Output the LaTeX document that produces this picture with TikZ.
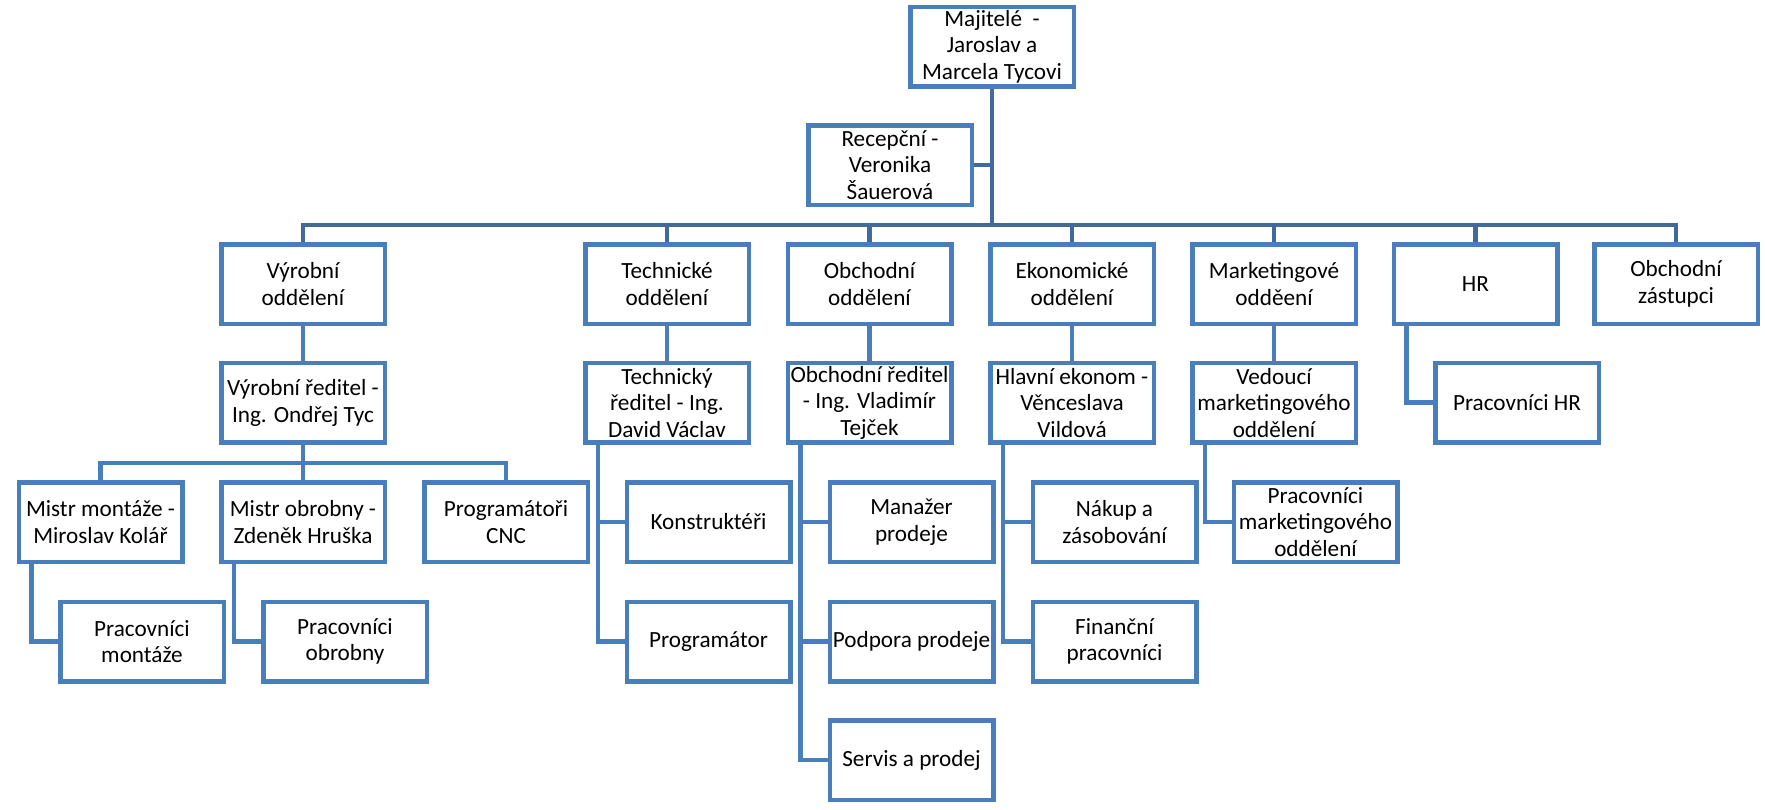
\documentclass[tikz,border=0pt]{standalone}
\usepackage{fontspec}
\setmainfont{Carlito}
\usepackage{tikz}
\usepackage{xcolor}

\definecolor{boxblue}{HTML}{4A7EBB}
\definecolor{busblue}{HTML}{41699B}

\tikzset{
  orgbox/.style={draw=boxblue, line width=2.25pt, fill=white, rectangle,
    minimum width=81.75pt, minimum height=39.75pt, inner sep=0.8pt,
    align=center, font=\fontsize{11.6}{13.3}\selectfont},
  link/.style={draw=boxblue, line width=2.25pt},
  buslink/.style={draw=busblue, line width=2.25pt}
}

\begin{document}
\begin{tikzpicture}[x=0.5pt,y=0.5pt,yscale=-1,xscale=1]
        \useasboundingbox (0,0) rectangle (1765,809); %set diagram size as the page

        % Text Node
        \draw (992,46.5) node [orgbox] (own) {Majitelé~ -\\Jaroslav a\\Marcela Tycovi};
        % Text Node
        \draw (890,165) node [orgbox] (recep) {Recepční -\\Veronika\\Šauerová};

        % Text Node
        \draw (303,284) node [orgbox] (vyr) {Výrobní\\oddělení};
        % Text Node
        \draw (667,284) node [orgbox] (tech) {Technické\\oddělení};
        % Text Node
        \draw (869.5,284) node [orgbox] (obch) {Obchodní\\oddělení};
        % Text Node
        \draw (1072,284) node [orgbox] (ekon) {Ekonomické\\oddělení};
        % Text Node
        \draw (1274,284) node [orgbox] (mkt) {Marketingové\\odděení};
        % Text Node
        \draw (1475.5,284) node [orgbox] (hr) {HR};
        % Text Node
        \draw (1676,284) node [orgbox] (zast) {Obchodní\\zástupci};

        % Text Node
        \draw (303,402.7) node [orgbox] (vyrred) {Výrobní ředitel -\\Ing. Ondřej Tyc};
        % Text Node
        \draw (667,402.7) node [orgbox] (techred) {Technický\\ředitel - Ing.\\David Václav};
        % Text Node
        \draw (869.5,402.7) node [orgbox] (obchred) {Obchodní ředitel\\- Ing. Vladimír\\Tejček};
        % Text Node
        \draw (1072,402.7) node [orgbox] (ekonom) {Hlavní ekonom -\\Věnceslava\\Vildová};
        % Text Node
        \draw (1274,402.7) node [orgbox] (vedmkt) {Vedoucí\\marketingového\\oddělení};
        % Text Node
        \draw (1517,402.7) node [orgbox] (prachr) {Pracovníci HR};

        % Text Node
        \draw (100.5,522) node [orgbox] (mistrm) {Mistr montáže -\\Miroslav Kolář};
        % Text Node
        \draw (303,522) node [orgbox] (mistro) {Mistr obrobny -\\Zdeněk Hruška};
        % Text Node
        \draw (506,522) node [orgbox] (cnc) {Programátoři\\CNC};
        % Text Node
        \draw (708.5,522) node [orgbox] (konstr) {Konstruktéři};
        % Text Node
        \draw (911.5,522) node [orgbox] (manaz) {Manažer\\prodeje};
        % Text Node
        \draw (1114.5,522) node [orgbox] (nakup) {Nákup a\\zásobování};
        % Text Node
        \draw (1315.5,522) node [orgbox] (pracmkt) {Pracovníci\\marketingového\\oddělení};

        % Text Node
        \draw (142,641.5) node [orgbox] (pracmont) {Pracovníci\\montáže};
        % Text Node
        \draw (345,641.5) node [orgbox] (pracobr) {Pracovníci\\obrobny};
        % Text Node
        \draw (708.5,641.5) node [orgbox] (program) {Programátor};
        % Text Node
        \draw (911.5,641.5) node [orgbox] (podpora) {Podpora prodeje};
        % Text Node
        \draw (1114.5,641.5) node [orgbox] (financ) {Finanční\\pracovníci};

        % Text Node
        \draw (911.5,760) node [orgbox] (servis) {Servis a prodej};

        %Shape: main bus
        \coordinate (bus) at (992,225);
        \draw [buslink] (own) -- (bus);
        \draw [buslink] (recep.east) -- (recep.east -| own.south);
        \draw [buslink] (vyr.north) |- (bus) -| (zast.north);
        \draw [buslink] (tech.north) -- (tech.north |- bus);
        \draw [buslink] (obch.north) -- (obch.north |- bus);
        \draw [buslink] (ekon.north) -- (ekon.north |- bus);
        \draw [buslink] (mkt.north) -- (mkt.north |- bus);
        \draw [buslink] (hr.north) -- (hr.north |- bus);

        %Shape: department to head
        \draw [link] (vyr) -- (vyrred);
        \draw [link] (tech) -- (techred);
        \draw [link] (obch) -- (obchred);
        \draw [link] (ekon) -- (ekonom);
        \draw [link] (mkt) -- (vedmkt);
        \draw [link] ([xshift=7.5pt]hr.south west) |- (prachr.west);

        %Shape: production bus
        \coordinate (vbus) at (303,463);
        \draw [link] (vyrred) -- (mistro);
        \draw [link] (mistrm.north) |- (vbus) -| (cnc.north);
        \draw [link] ([xshift=7.5pt]mistrm.south west) |- (pracmont.west);
        \draw [link] ([xshift=7.5pt]mistro.south west) |- (pracobr.west);

        %Shape: side branches
        \draw [link] ([xshift=7.5pt]techred.south west) |- (konstr.west);
        \draw [link] ([xshift=7.5pt]techred.south west) |- (program.west);
        \draw [link] ([xshift=7.5pt]obchred.south west) |- (manaz.west);
        \draw [link] ([xshift=7.5pt]obchred.south west) |- (podpora.west);
        \draw [link] ([xshift=7.5pt]obchred.south west) |- (servis.west);
        \draw [link] ([xshift=7.5pt]ekonom.south west) |- (nakup.west);
        \draw [link] ([xshift=7.5pt]ekonom.south west) |- (financ.west);
        \draw [link] ([xshift=7.5pt]vedmkt.south west) |- (pracmkt.west);

\end{tikzpicture}
\end{document}
